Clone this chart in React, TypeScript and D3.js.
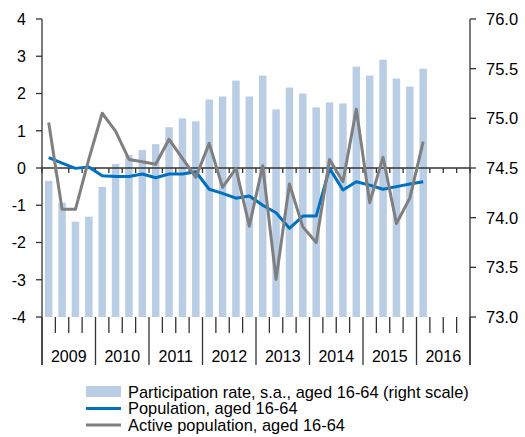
import React from "react";
import * as d3 from "d3";

const years = ["2009", "2010", "2011", "2012", "2013", "2014", "2015", "2016"];
const quarterKeys = years.flatMap((y) => ["Q1", "Q2", "Q3", "Q4"].map((q) => `${y} ${q}`));

// Participation rate, s.a., aged 16-64 (right scale), 2009Q1..2016Q1
const participation = [
  74.37, 74.15, 73.96, 74.01, 74.31, 74.54, 74.63, 74.68, 74.74, 74.91, 75.0, 74.97,
  75.19, 75.22, 75.38, 75.22, 75.43, 75.09, 75.31, 75.25, 75.11, 75.16, 75.15, 75.52,
  75.43, 75.59, 75.4, 75.32, 75.5,
];
// Population, aged 16-64 (left scale)
const population = [
  0.28, 0.13, -0.01, 0.03, -0.21, -0.23, -0.23, -0.16, -0.26, -0.16, -0.16, -0.1,
  -0.57, -0.68, -0.81, -0.75, -1.0, -1.2, -1.62, -1.29, -1.29, -0.01, -0.59, -0.37,
  -0.46, -0.57, -0.5, -0.43, -0.37,
];
// Active population, aged 16-64 (left scale)
const active = [
  1.22, -1.11, -1.11, 0.24, 1.47, 0.99, 0.23, 0.17, 0.1, 0.77, 0.26, -0.25,
  0.66, -0.52, -0.01, -1.56, 0.06, -2.99, -0.43, -1.58, -2.0, 0.23, -0.37, 1.58,
  -0.93, 0.29, -1.49, -0.81, 0.71,
];
const leftTicks = [-4, -3, -2, -1, 0, 1, 2, 3, 4];
const rightTicks = [73.0, 73.5, 74.0, 74.5, 75.0, 75.5, 76.0];
const legendLabels = [
  "Participation rate, s.a., aged 16-64 (right scale)",
  "Population, aged 16-64",
  "Active population, aged 16-64",
];

const BAR = "#b9cde5";
const BLUE = "#0070c0";
const GRAY = "#7f7f7f";
const AXIS = "#333333";
const FONT = "'Liberation Sans', Arial, sans-serif";

export default function App() {
  const W = 525;
  const H = 437;
  const x0 = 42;
  const x1 = 470;
  const yTop = 19;
  const yBot = 317;

  const x = d3
    .scaleBand<string>()
    .domain(quarterKeys)
    .range([x0, x1])
    .paddingInner(0.44)
    .paddingOuter(0.22);
  const step = x.step();
  const bw = x.bandwidth();
  const cx = (i: number) => (x(quarterKeys[i]) as number) + bw / 2;
  const boundary = (i: number) => x0 + i * step;

  const yL = d3.scaleLinear().domain([-4, 4]).range([yBot, yTop]);
  const yR = d3.scaleLinear().domain([73, 76]).range([yBot, yTop]);

  const lineL = d3
    .line<number>()
    .x((_, i) => cx(i))
    .y((d) => yL(d));

  const boundaries = d3.range(quarterKeys.length + 1);

  return (
    <svg
      width={W}
      height={H}
      style={{ position: "absolute", left: 0, top: 0, background: "#fff" }}
      fontFamily={FONT}
    >
      {/* bars */}
      {participation.map((v, i) => (
        <rect
          key={i}
          x={x(quarterKeys[i])}
          y={yR(v)}
          width={bw}
          height={yR(73) - yR(v)}
          fill={BAR}
        />
      ))}

      {/* left axis */}
      <line x1={x0} x2={x0} y1={yTop} y2={365} stroke={AXIS} strokeWidth={1.3} />
      {leftTicks.map((t) => (
        <g key={t}>
          <line x1={x0 - 6} x2={x0} y1={yL(t)} y2={yL(t)} stroke={AXIS} strokeWidth={1.3} />
          <text x={26} y={yL(t)} dy="0.36em" textAnchor="end" fontSize={16} fill="#000">
            {t}
          </text>
        </g>
      ))}

      {/* right axis */}
      <line x1={x1} x2={x1} y1={yTop} y2={365} stroke={AXIS} strokeWidth={1.3} />
      {rightTicks.map((t) => (
        <g key={t}>
          <line x1={x1} x2={x1 + 6} y1={yR(t)} y2={yR(t)} stroke={AXIS} strokeWidth={1.3} />
          <text x={486} y={yR(t)} dy="0.36em" textAnchor="start" fontSize={16.5} fill="#000">
            {d3.format(".1f")(t)}
          </text>
        </g>
      ))}

      {/* zero line with quarter ticks */}
      <line x1={x0} x2={x1} y1={yL(0)} y2={yL(0)} stroke={AXIS} strokeWidth={1.5} />
      {boundaries.map((i) => (
        <line
          key={`zt${i}`}
          x1={boundary(i)}
          x2={boundary(i)}
          y1={yL(0)}
          y2={yL(0) + 5}
          stroke={AXIS}
          strokeWidth={1.3}
        />
      ))}

      {/* bottom category ticks */}
      {boundaries.map((i) => (
        <line
          key={`bt${i}`}
          x1={boundary(i)}
          x2={boundary(i)}
          y1={yBot}
          y2={i % 4 === 0 ? 365 : 333}
          stroke={AXIS}
          strokeWidth={1.3}
        />
      ))}
      {years.map((yr, k) => (
        <text
          key={yr}
          x={(boundary(k * 4) + boundary(k * 4 + 4)) / 2}
          y={362}
          textAnchor="middle"
          fontSize={16}
          fill="#000"
        >
          {yr}
        </text>
      ))}

      {/* lines */}
      <path d={lineL(population) ?? ""} fill="none" stroke={BLUE} strokeWidth={3} strokeLinejoin="round" />
      <path d={lineL(active) ?? ""} fill="none" stroke={GRAY} strokeWidth={3} strokeLinejoin="round" />

      {/* legend */}
      <rect x={86} y={386} width={35} height={11} fill={BAR} />
      <line x1={86} x2={121} y1={408.5} y2={408.5} stroke={BLUE} strokeWidth={3} />
      <line x1={86} x2={121} y1={425} y2={425} stroke={GRAY} strokeWidth={3} />
      {legendLabels.map((l, i) => (
        <text key={l} x={128} y={391.7 + i * 16.7} dy="0.36em" fontSize={16.4} fill="#000">
          {l}
        </text>
      ))}
    </svg>
  );
}
